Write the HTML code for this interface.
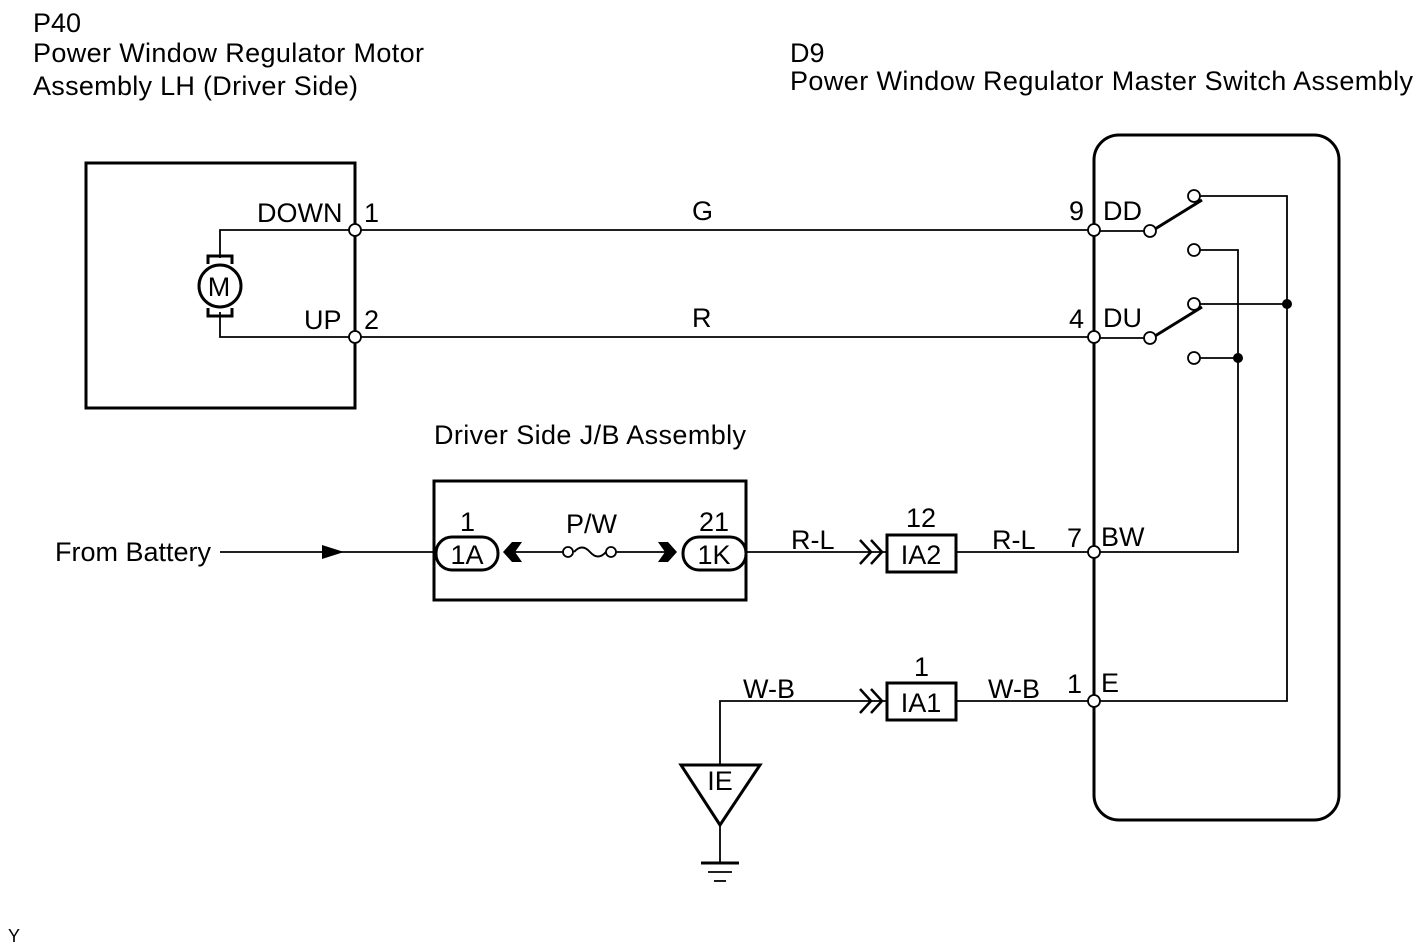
<!DOCTYPE html>
<html><head><meta charset="utf-8"><style>
html,body{margin:0;padding:0;background:#fff;}
svg{display:block;}
text{font-family:"Liberation Sans",sans-serif;font-size:27px;fill:#000;}
</style></head><body>
<svg width="1426" height="946" viewBox="0 0 1426 946">
<g fill="none" stroke="#000">
<rect x="86" y="163" width="269" height="245" stroke-width="3"/>
<polyline points="355,230 220,230 220,258" stroke-width="1.8"/>
<polyline points="220,312 220,337 355,337" stroke-width="1.8"/>
<polyline points="208,264 208,256 232,256 232,264" stroke-width="3"/>
<polyline points="208,308 208,316 232,316 232,308" stroke-width="3"/>
<circle cx="220" cy="286" r="21" stroke-width="3" fill="#fff"/>
<line x1="355" y1="230" x2="1094" y2="230" stroke-width="1.8"/>
<line x1="355" y1="337" x2="1094" y2="337" stroke-width="1.8"/>
<rect x="1094" y="135" width="245" height="685" rx="25" stroke-width="3"/>
<line x1="1094" y1="231" x2="1150" y2="231" stroke-width="1.8"/>
<line x1="1094" y1="338" x2="1150" y2="338" stroke-width="1.8"/>
<line x1="1155" y1="229" x2="1202" y2="200" stroke-width="3"/>
<line x1="1155" y1="336" x2="1202" y2="307" stroke-width="3"/>
<polyline points="1194,196 1287,196 1287,701 1094,701" stroke-width="1.8"/>
<polyline points="1194,250 1238,250 1238,552 1094,552" stroke-width="1.8"/>
<line x1="1194" y1="304" x2="1287" y2="304" stroke-width="1.8"/>
<line x1="1194" y1="358" x2="1238" y2="358" stroke-width="1.8"/>
<g stroke-width="1.8" fill="#fff">
<circle cx="1150" cy="231" r="6"/><circle cx="1150" cy="338" r="6"/>
<circle cx="1194" cy="196" r="6"/><circle cx="1194" cy="250" r="6"/>
<circle cx="1194" cy="304" r="6"/><circle cx="1194" cy="358" r="6"/>
</g>
<line x1="220" y1="552" x2="436" y2="552" stroke-width="1.8"/>
<rect x="434" y="481" width="312" height="119" stroke-width="3"/>
<rect x="436" y="537" width="62" height="33" rx="16" stroke-width="3" fill="#fff"/>
<rect x="683" y="537" width="63" height="33" rx="16" stroke-width="3" fill="#fff"/>
<line x1="515" y1="552" x2="563" y2="552" stroke-width="1.8"/>
<line x1="616" y1="552" x2="665" y2="552" stroke-width="1.8"/>
<path d="M574,552 q8,-9 16,0 t16,0" stroke-width="2"/>
<line x1="746" y1="552" x2="887" y2="552" stroke-width="1.8"/>
<polyline points="860,540 871,552 860,564" stroke-width="2.5"/>
<polyline points="871,540 882,552 871,564" stroke-width="2.5"/>
<rect x="887" y="535" width="69" height="37" stroke-width="3"/>
<line x1="956" y1="552" x2="1094" y2="552" stroke-width="1.8"/>
<polyline points="720,765 720,701 887,701" stroke-width="1.8"/>
<polyline points="860,689 871,701 860,713" stroke-width="2.5"/>
<polyline points="871,689 882,701 871,713" stroke-width="2.5"/>
<rect x="887" y="683" width="69" height="37" stroke-width="3"/>
<line x1="956" y1="701" x2="1094" y2="701" stroke-width="1.8"/>
<polygon points="681,765 760,765 720,825" stroke-width="3"/>
<line x1="720" y1="825" x2="720" y2="862" stroke-width="1.8"/>
<line x1="701" y1="863" x2="739" y2="863" stroke-width="3"/>
<line x1="708" y1="872" x2="732" y2="872" stroke-width="1.8"/>
<line x1="714" y1="881" x2="726" y2="881" stroke-width="1.8"/>
<g stroke-width="1.8" fill="#fff">
<circle cx="355" cy="230" r="6"/><circle cx="355" cy="337" r="6"/>
<circle cx="1094" cy="230" r="6"/><circle cx="1094" cy="337" r="6"/>
<circle cx="1094" cy="552" r="6"/><circle cx="1094" cy="701" r="6"/>
<circle cx="568" cy="552" r="5"/><circle cx="611" cy="552" r="5"/>
</g>
</g>
<g fill="#000">
<circle cx="1287" cy="304" r="5"/><circle cx="1238" cy="358" r="5"/>
<polygon points="322,545 344,552 322,559"/>
<polygon points="503,552 512,542 522,542 515,552 522,562 512,562"/>
<polygon points="658,542 668,542 677,552 668,562 658,562 665,552"/>
</g>
<text x="33" y="32">P40</text>
<text x="33" y="62" textLength="391">Power Window Regulator Motor</text>
<text x="33" y="95" textLength="325">Assembly LH (Driver Side)</text>
<text x="790" y="62">D9</text>
<text x="790" y="90" textLength="623">Power Window Regulator Master Switch Assembly</text>
<text x="257" y="222">DOWN</text><text x="364" y="222">1</text>
<text x="304" y="329">UP</text><text x="364" y="329">2</text>
<text x="219" y="296" text-anchor="middle">M</text>
<text x="692" y="220">G</text><text x="692" y="327">R</text>
<text x="1069" y="220">9</text><text x="1103" y="220">DD</text>
<text x="1069" y="328">4</text><text x="1103" y="327">DU</text>
<text x="1067" y="547">7</text><text x="1101" y="546">BW</text>
<text x="1067" y="693">1</text><text x="1101" y="692">E</text>
<text x="434" y="444" textLength="312">Driver Side J/B Assembly</text>
<text x="55" y="561">From Battery</text>
<text x="460" y="531">1</text><text x="566" y="533">P/W</text><text x="699" y="531">21</text>
<text x="467" y="564" text-anchor="middle">1A</text>
<text x="714" y="564" text-anchor="middle">1K</text>
<text x="791" y="549">R-L</text><text x="992" y="549">R-L</text>
<text x="906" y="527">12</text><text x="921" y="564" text-anchor="middle">IA2</text>
<text x="914" y="676">1</text><text x="921" y="712" text-anchor="middle">IA1</text>
<text x="743" y="698">W-B</text><text x="988" y="698">W-B</text>
<text x="720" y="790" text-anchor="middle">IE</text>
<text x="8" y="942" style="font-size:18px">Y</text>
</svg>
</body></html>
